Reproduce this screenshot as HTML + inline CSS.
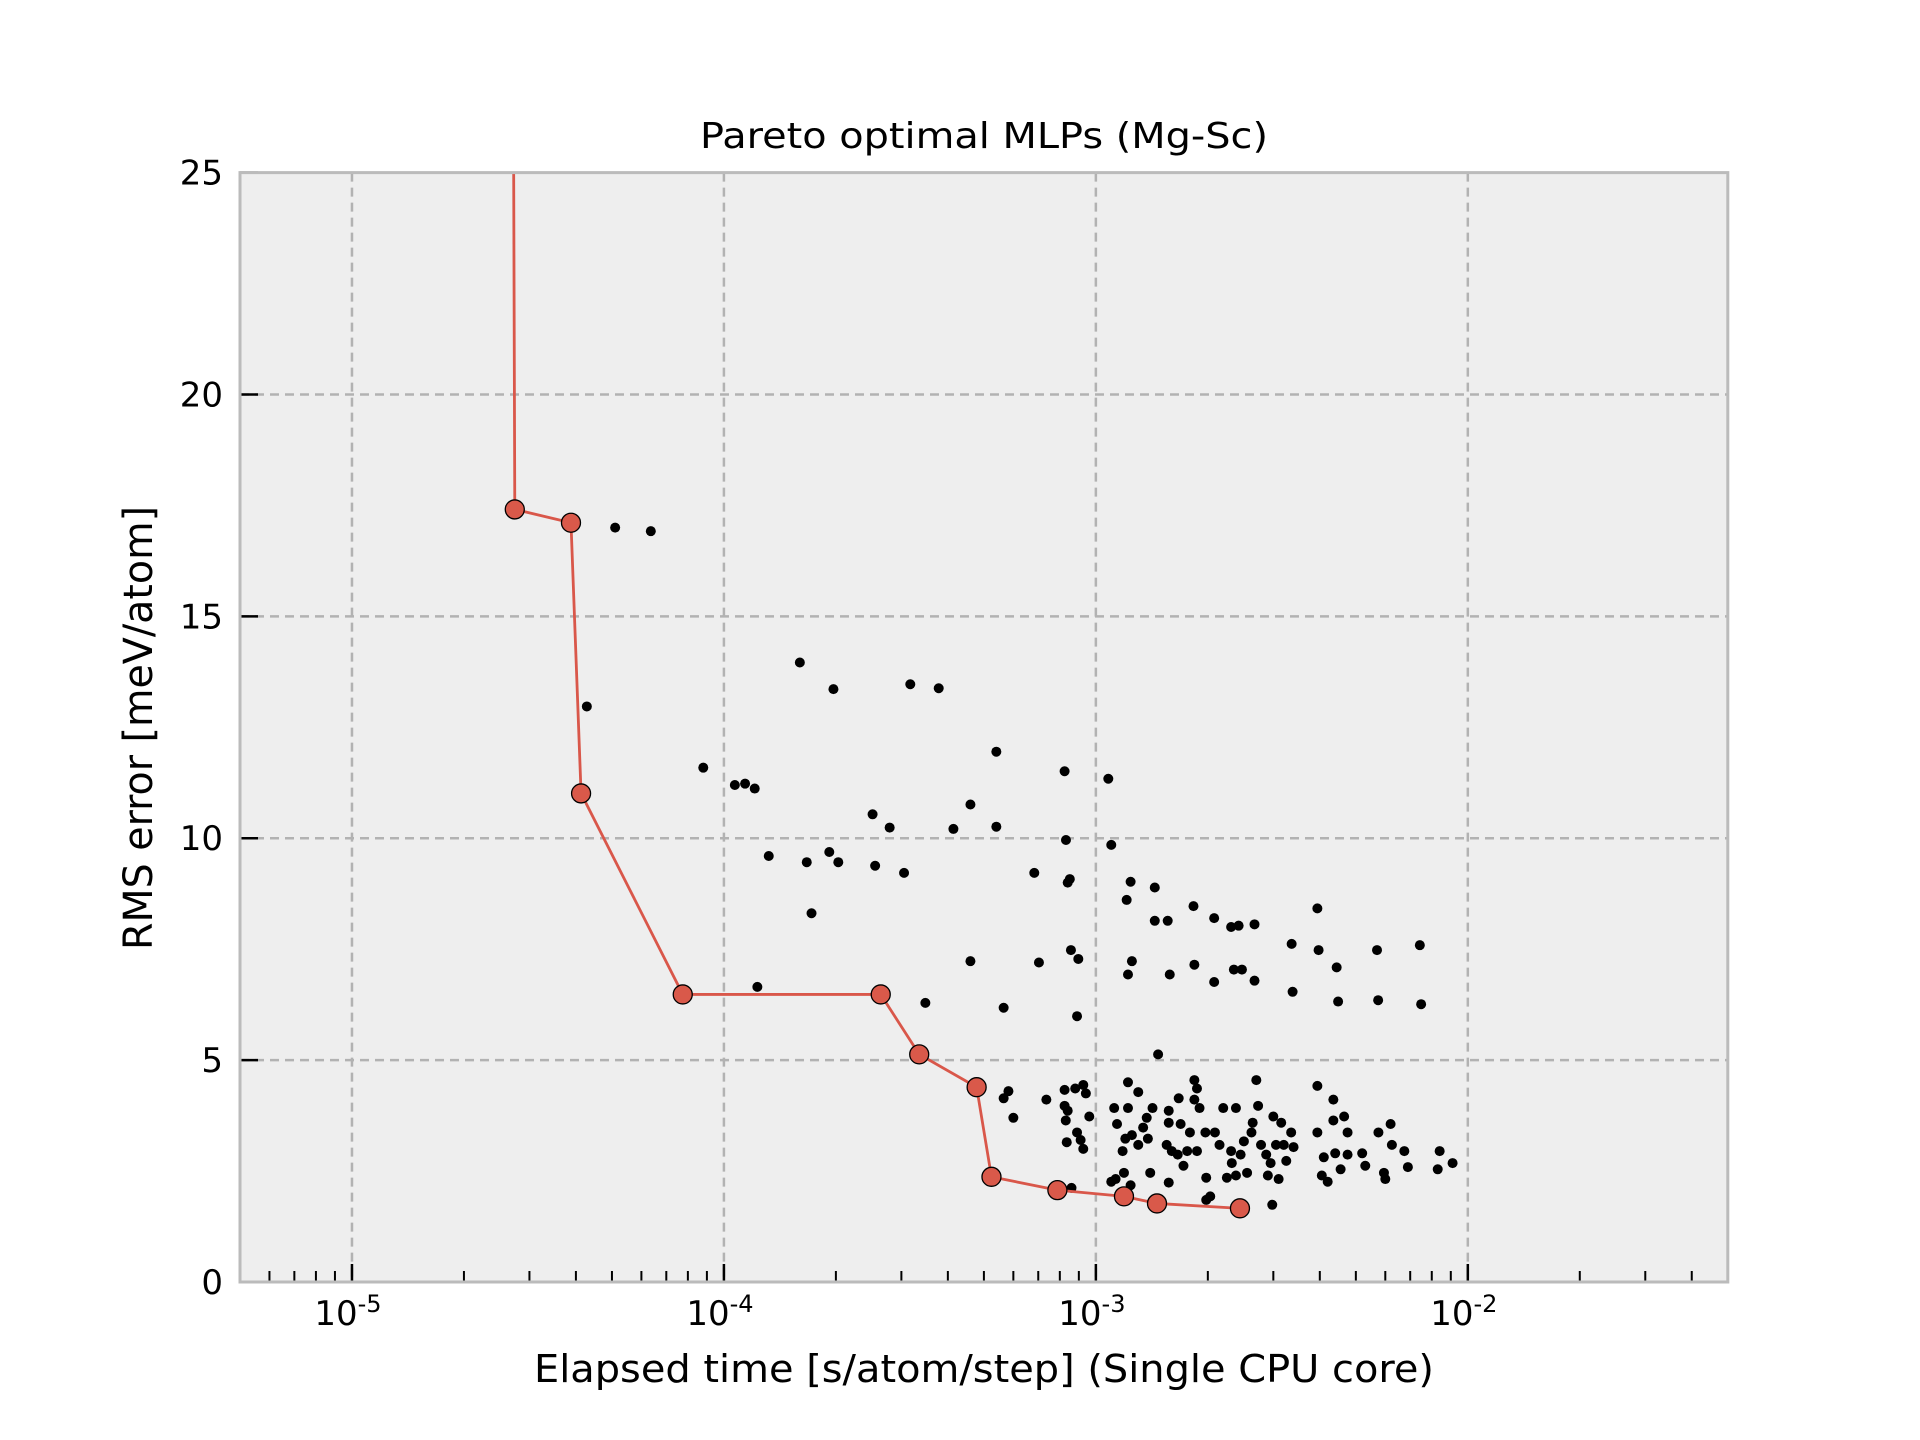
<!DOCTYPE html>
<html><head><meta charset="utf-8"><style>
html,body{margin:0;padding:0;background:#fff;}
svg{display:block;font-family:"DejaVu Sans","Liberation Sans",sans-serif;}
</style></head><body>
<svg id="chart" width="1920" height="1440" viewBox="0 0 1920 1440" xmlns="http://www.w3.org/2000/svg">
<rect x="240" y="172.6" width="1487.8" height="1109.4" fill="#eeeeee"/>
<g id="grid"></g>
<g id="ticks"></g>
<g id="series"></g>
<rect x="240" y="172.6" width="1487.8" height="1109.4" fill="none" stroke="#bbbbbb" stroke-width="3"/>
<g id="labels"></g>
<text x="984" y="148" font-size="36" text-anchor="middle" textLength="568" lengthAdjust="spacingAndGlyphs">Pareto optimal MLPs (Mg-Sc)</text>
<text x="984" y="1382" font-size="38" text-anchor="middle" textLength="900" lengthAdjust="spacingAndGlyphs">Elapsed time [s/atom/step] (Single CPU core)</text>
<text x="0" y="0" font-size="40" text-anchor="middle" transform="translate(152,728) rotate(-90)" textLength="444" lengthAdjust="spacingAndGlyphs">RMS error [meV/atom]</text>
</svg>
<script>
const yTicks=[0,5,10,15,20,25];
const xDecades=[-5,-4,-3,-2];
const paretoX=[2.72e-5,2.74e-5,3.88e-5,4.13e-5,7.75e-5,2.64e-4,3.35e-4,4.78e-4,5.24e-4,7.88e-4,1.19e-3,1.46e-3,2.44e-3];
const paretoY=[25.5,17.41,17.11,11.01,6.48,6.48,5.13,4.39,2.37,2.07,1.93,1.77,1.66];
const paretoMarked=[false,true,true,true,true,true,true,true,true,true,true,true,true];
const scatterX=[5.1e-5,6.36e-5,4.28e-5,1.60e-4,1.97e-4,3.17e-4,3.78e-4,8.8e-5,1.07e-4,1.14e-4,1.21e-4,5.40e-4,8.24e-4,1.08e-3,1.32e-4,1.67e-4,2.03e-4,1.92e-4,2.51e-4,2.79e-4,2.55e-4,3.05e-4,4.60e-4,4.14e-4,5.40e-4,8.31e-4,1.10e-3,6.83e-4,8.51e-4,8.4e-4,1.72e-4,1.24e-3,1.44e-3,1.21e-3,1.44e-3,1.56e-3,1.83e-3,2.08e-3,2.31e-3,2.42e-3,2.67e-3,3.94e-3,3.36e-3,3.97e-3,4.44e-3,5.70e-3,7.43e-3,3.38e-3,4.48e-3,5.74e-3,7.49e-3,1.23e-4,3.48e-4,5.65e-4,4.60e-4,7.03e-4,8.57e-4,8.97e-4,8.9e-4,1.22e-3,1.25e-3,1.58e-3,1.84e-3,2.08e-3,2.35e-3,2.47e-3,2.67e-3,1.47e-3,
5.82e-4,5.65e-4,6.0e-4,7.36e-4,8.24e-4,8.8e-4,9.25e-4,9.4e-4,8.24e-4,8.4e-4,8.3e-4,8.35e-4,8.9e-4,9.1e-4,9.25e-4,9.6e-4,8.6e-4,1.12e-3,1.22e-3,1.22e-3,1.14e-3,1.18e-3,1.2e-3,1.25e-3,1.3e-3,1.19e-3,1.13e-3,1.10e-3,1.24e-3,1.3e-3,1.37e-3,1.42e-3,1.38e-3,1.34e-3,1.57e-3,1.57e-3,1.55e-3,1.6e-3,1.57e-3,1.67e-3,1.69e-3,1.66e-3,1.76e-3,1.72e-3,1.79e-3,1.84e-3,1.87e-3,1.84e-3,1.9e-3,1.97e-3,1.87e-3,1.98e-3,2.03e-3,1.98e-3,2.09e-3,2.15e-3,2.2e-3,2.25e-3,2.32e-3,2.31e-3,2.38e-3,2.5e-3,2.45e-3,2.55e-3,2.64e-3,2.62e-3,2.7e-3,2.73e-3,2.78e-3,2.87e-3,2.9e-3,2.95e-3,3.0e-3,3.05e-3,3.1e-3,3.15e-3,3.2e-3,3.25e-3,3.35e-3,3.4e-3,2.98e-3,3.94e-3,3.94e-3,4.1e-3,4.05e-3,4.2e-3,4.35e-3,4.35e-3,4.4e-3,4.55e-3,4.65e-3,4.75e-3,4.75e-3,5.2e-3,5.3e-3,5.75e-3,6.0e-3,6.2e-3,6.25e-3,6.75e-3,6.9e-3,8.4e-3,8.3e-3,9.1e-3,5.95e-3,2.38e-3,1.40e-3];
const scatterY=[17.0,16.92,12.97,13.96,13.36,13.47,13.38,11.59,11.2,11.23,11.12,11.95,11.51,11.34,9.6,9.46,9.46,9.69,10.54,10.24,9.38,9.22,10.76,10.21,10.26,9.96,9.85,9.22,9.08,9.0,8.31,9.02,8.89,8.61,8.14,8.14,8.47,8.2,8.0,8.03,8.06,8.42,7.62,7.48,7.09,7.48,7.59,6.54,6.32,6.35,6.26,6.65,6.29,6.18,7.23,7.2,7.48,7.28,5.99,6.93,7.23,6.93,7.15,6.76,7.04,7.04,6.79,5.13,
4.3,4.14,3.7,4.11,4.33,4.36,4.44,4.25,3.97,3.86,3.64,3.15,3.37,3.2,3.0,3.73,2.12,3.92,4.5,3.92,3.56,2.95,3.23,3.31,3.09,2.46,2.32,2.26,2.18,4.28,3.7,3.92,3.23,3.48,3.86,3.59,3.09,2.95,2.24,4.14,3.56,2.87,2.95,2.62,3.37,4.55,4.36,4.11,3.92,3.37,2.95,2.35,1.93,1.85,3.37,3.09,3.92,2.35,2.68,2.95,3.92,3.17,2.87,2.46,3.59,3.37,4.55,3.97,3.09,2.87,2.4,2.68,3.73,3.09,2.32,3.59,3.09,2.73,3.37,3.04,1.74,4.42,3.37,2.81,2.4,2.26,4.11,3.64,2.9,2.54,3.73,2.87,3.37,2.9,2.62,3.37,2.32,3.56,3.09,2.95,2.59,2.95,2.54,2.68,2.46,2.4,2.46];

const NS="http://www.w3.org/2000/svg";
const L=240,T=172.6,W=1487.8,H=1109.4;
const xMinLog=Math.log10(5e-6),xMaxLog=Math.log10(5e-2);
const yMin=0,yMax=25;
function sx(v){return L+(Math.log10(v)-xMinLog)/(xMaxLog-xMinLog)*W;}
function sy(v){return T+H-(v-yMin)/(yMax-yMin)*H;}
function mk(tag,attrs,parent){const e=document.createElementNS(NS,tag);for(const k in attrs)e.setAttribute(k,attrs[k]);parent.appendChild(e);return e;}
const grid=document.getElementById('grid'),ticks=document.getElementById('ticks'),labels=document.getElementById('labels'),series=document.getElementById('series');

yTicks.forEach(v=>{
  const y=sy(v);
  if(v>0&&v<25){const g=mk('line',{x1:L,x2:L+W,y1:y,y2:y,stroke:'#b2b2b2','stroke-width':2.5,'stroke-dasharray':'9,6'},grid);
  
  }
  const t=mk('line',{x1:L,x2:L+18,y1:y,y2:y,stroke:'#000','stroke-width':2.5},ticks);
  
  
  const tx=mk('text',{x:223,y:y+12,'font-size':34,'text-anchor':'end'},labels);
  tx.textContent=String(v);
  
  
});
xDecades.forEach(d=>{
  const x=sx(Math.pow(10,d));
  const g=mk('line',{x1:x,x2:x,y1:T,y2:T+H,stroke:'#b2b2b2','stroke-width':2.5,'stroke-dasharray':'9,6'},grid);
  
  
  const t=mk('line',{x1:x,x2:x,y1:T+H,y2:T+H-18,stroke:'#000','stroke-width':2.5},ticks);
  
  
  const tx=mk('text',{x:x-4,y:1325,'font-size':34,'text-anchor':'middle'},labels);
  
  
  const b=document.createElementNS(NS,'tspan');b.textContent='10';tx.appendChild(b);
  const e=document.createElementNS(NS,'tspan');e.setAttribute('dy','-13');e.setAttribute('font-size','24');e.textContent='-'+(-d);tx.appendChild(e);
});
for(let d=-6;d<=-2;d++){for(let m=2;m<=9;m++){const v=m*Math.pow(10,d);if(v<5e-6||v>5e-2)continue;
  const x=sx(v);
  const t=mk('line',{x1:x,x2:x,y1:T+H,y2:T+H-11,stroke:'#000','stroke-width':2},ticks);
  
  }}

const sg=mk('g',{},series);


scatterX.forEach((xv,i)=>{
  const c=mk('circle',{cx:sx(xv),cy:sy(scatterY[i]),r:5,fill:'#000'},sg);
  
  
});
const pts=paretoX.map((xv,i)=>sx(xv)+','+sy(paretoY[i])).join(' ');
const clip=mk('clipPath',{id:'pc'},series);mk('rect',{x:L,y:T,width:W,height:H},clip);
const pl=mk('polyline',{points:pts,fill:'none',stroke:'#d9574a','stroke-width':2.8,'clip-path':'url(#pc)'},series);


paretoX.forEach((xv,i)=>{if(!paretoMarked[i])return;
  const c=mk('circle',{cx:sx(xv),cy:sy(paretoY[i]),r:9.5,fill:'#d9594a',stroke:'#000','stroke-width':1.3},series);
  
  
});
</script>
</body></html>
